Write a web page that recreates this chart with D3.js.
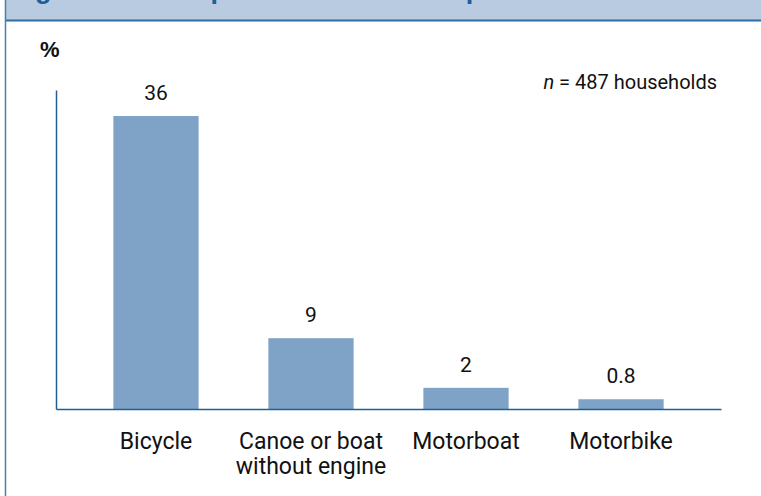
<!DOCTYPE html>
<html>
<head>
<meta charset="utf-8">
<script src="https://cdn.jsdelivr.net/npm/d3@7/dist/d3.min.js"></script>
<style>
  html, body { margin: 0; padding: 0; background: #fff; }
  svg { display: block; }
  text { font-family: Roboto, "Liberation Sans", Arial, sans-serif; }
</style>
</head>
<body>
<svg id="chart" width="761" height="496"></svg>
<script>
// ---- data ----
const categories = ["Bicycle", "Canoe or boat\nwithout engine", "Motorboat", "Motorbike"];
const values = [36, 8.7, 2.6, 1.2];          // bar heights as drawn
const valueLabels = ["36", "9", "2", "0.8"];   // printed labels
const yMax = 39.2;
const titleText = "Figure 12 Transport asset ownership";
const unitLabel = "%";
const noteN = "487";
const noteRest = " households";

// ---- layout ----
const W = 761, H = 496;
const svg = d3.select("#chart");
const blue = "#1f5f96";
const ink = "#111";

svg.append("rect").attr("x", 0).attr("y", 0).attr("width", W).attr("height", H).attr("fill", "#fff");

// header band (title cropped at the top, as in the source)
svg.append("rect").attr("x", 5).attr("y", 0).attr("width", W - 5).attr("height", 20).attr("fill", "#b8cbe1");
svg.append("text").attr("x", 11).attr("y", -2)
  .attr("font-size", 27).attr("font-weight", "bold").attr("fill", "#1f5e98")
  .style("font-family", "'Liberation Sans', Arial, sans-serif")
  .text(titleText);
svg.append("line").attr("x1", 5).attr("x2", W).attr("y1", 20.5).attr("y2", 20.5)
  .attr("stroke", "#2f6ea5").attr("stroke-width", 2);
svg.append("line").attr("x1", 5.5).attr("x2", 5.5).attr("y1", 0).attr("y2", H)
  .attr("stroke", "#4a7fae").attr("stroke-width", 1.5);

// scales
const x = d3.scaleBand().domain(categories).range([56, 721]).paddingInner(0.45).paddingOuter(0.37);
const y = d3.scaleLinear().domain([0, yMax]).range([409, 90]);

// bars
svg.append("g").selectAll("rect").data(categories).join("rect")
  .attr("x", d => x(d))
  .attr("y", (d, i) => y(values[i]))
  .attr("width", x.bandwidth())
  .attr("height", (d, i) => y(0) - y(values[i]))
  .attr("fill", "#7fa3c7");

// value labels
svg.append("g").selectAll("text").data(categories).join("text")
  .attr("x", d => x(d) + x.bandwidth() / 2)
  .attr("y", (d, i) => y(values[i]) - 16)
  .attr("text-anchor", "middle")
  .attr("font-size", 21)
  .attr("fill", ink)
  .text((d, i) => valueLabels[i]);

// y axis (line only)
const gy = svg.append("g").attr("transform", "translate(56,0)")
  .call(d3.axisLeft(y).tickValues([]).tickSizeOuter(0));
gy.select(".domain").attr("stroke", blue).attr("stroke-width", 1.5);

// x axis
const gx = svg.append("g").attr("transform", "translate(0,409)")
  .call(d3.axisBottom(x).tickSize(0).tickSizeOuter(0));
gx.attr("font-family", null).attr("font-size", null);
gx.select(".domain").attr("stroke", blue).attr("stroke-width", 1.5);
gx.selectAll(".tick text").each(function(d) {
  const t = d3.select(this);
  t.text(null).attr("y", 0).attr("dy", null)
    .attr("font-size", 23).attr("fill", ink);
  d.split("\n").forEach((line, i) => {
    t.append("tspan").attr("x", 0).attr("y", 40 + i * 25).text(line);
  });
});

// unit label
svg.append("text").attr("x", 40).attr("y", 57)
  .attr("font-size", 22).attr("font-weight", "bold").attr("fill", ink)
  .style("font-family", "'Liberation Sans', Arial, sans-serif")
  .text(unitLabel);

// n note
const note = svg.append("text").attr("x", 717).attr("y", 89)
  .attr("text-anchor", "end").attr("font-size", 20).attr("fill", ink);
note.append("tspan").attr("font-style", "italic").text("n");
note.append("tspan").text(" = " + noteN + noteRest);
</script>
</body>
</html>
